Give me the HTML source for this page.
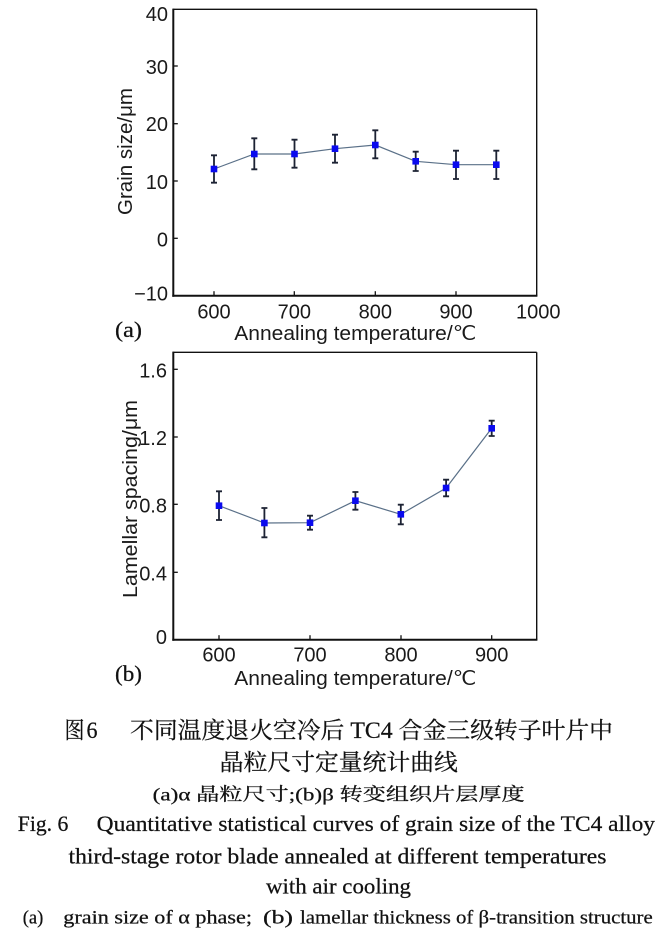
<!DOCTYPE html>
<html><head><meta charset="utf-8"><style>
html,body{margin:0;padding:0;background:#fff;}
svg{display:block;}
.t{font-family:"Liberation Sans",sans-serif;fill:#1a1a1a;}
.s{font-family:"Liberation Serif","Noto Serif CJK SC",serif;fill:#111;stroke:#111;stroke-width:0.25;}
</style></head><body>
<svg width="663" height="945" viewBox="0 0 663 945" xmlns="http://www.w3.org/2000/svg">
<rect width="663" height="945" fill="#fff"/>

<!-- ===== Chart (a) ===== -->
<g stroke="#111" fill="none">
  <line x1="173.3" y1="9.3" x2="536.7" y2="9.3" stroke-width="1.4"/>
  <line x1="536.7" y1="9.3" x2="536.7" y2="295.7" stroke-width="1.4"/>
  <line x1="173.3" y1="8.6" x2="173.3" y2="296.7" stroke-width="2"/>
  <line x1="172.3" y1="295.7" x2="537.4" y2="295.7" stroke-width="2"/>
  <line x1="173.3" y1="66" x2="177.8" y2="66" stroke-width="1.3"/>
  <line x1="173.3" y1="123.7" x2="177.8" y2="123.7" stroke-width="1.3"/>
  <line x1="173.3" y1="181" x2="177.8" y2="181" stroke-width="1.3"/>
  <line x1="173.3" y1="238.3" x2="177.8" y2="238.3" stroke-width="1.3"/>
  <line x1="214" y1="295.7" x2="214" y2="291.2" stroke-width="1.3"/>
  <line x1="294.3" y1="295.7" x2="294.3" y2="291.2" stroke-width="1.3"/>
  <line x1="375.3" y1="295.7" x2="375.3" y2="291.2" stroke-width="1.3"/>
  <line x1="456" y1="295.7" x2="456" y2="291.2" stroke-width="1.3"/>
</g>
<g class="t" font-size="20" text-anchor="end">
  <text x="168" y="21">40</text>
  <text x="168" y="74">30</text>
  <text x="168" y="131">20</text>
  <text x="168" y="189">10</text>
  <text x="168" y="246.5">0</text>
  <text x="168" y="300.5">−10</text>
</g>
<g class="t" font-size="20" text-anchor="middle">
  <text x="214" y="318.5">600</text>
  <text x="294.3" y="318.5">700</text>
  <text x="375.3" y="318.5">800</text>
  <text x="456" y="318.5">900</text>
  <text x="538.3" y="318.5">1000</text>
</g>
<text class="t" font-size="20" x="234.3" y="340" textLength="242" lengthAdjust="spacingAndGlyphs">Annealing temperature/℃</text>
<text class="t" font-size="20" transform="translate(132,215) rotate(-90)" x="0" y="0" textLength="127" lengthAdjust="spacingAndGlyphs">Grain size/μm</text>
<text class="s" font-size="22" x="115" y="337" textLength="27" lengthAdjust="spacingAndGlyphs">(a)</text>

<polyline fill="none" stroke="#5a7088" stroke-width="1.2" points="214,169 254.3,154 294.5,154 335,148.7 375.3,145 415.7,161.3 456,164.7 496.3,164.7"/>
<g stroke="#1c2233" stroke-width="1.8" fill="none">
  <path d="M214 155.3V182.7M211 155.3H217M211 182.7H217"/>
  <path d="M254.3 138.3V169.3M251.3 138.3H257.3M251.3 169.3H257.3"/>
  <path d="M294.5 139.7V167.7M291.5 139.7H297.5M291.5 167.7H297.5"/>
  <path d="M335 134.7V162.7M332 134.7H338M332 162.7H338"/>
  <path d="M375.3 130.3V158.3M372.3 130.3H378.3M372.3 158.3H378.3"/>
  <path d="M415.7 151.7V171M412.7 151.7H418.7M412.7 171H418.7"/>
  <path d="M456 150.7V179M453 150.7H459M453 179H459"/>
  <path d="M496.3 150.7V179M493.3 150.7H499.3M493.3 179H499.3"/>
</g>
<g fill="#0a0aee">
  <rect x="210.7" y="165.7" width="6.6" height="6.6"/>
  <rect x="251" y="150.7" width="6.6" height="6.6"/>
  <rect x="291.2" y="150.7" width="6.6" height="6.6"/>
  <rect x="331.7" y="145.4" width="6.6" height="6.6"/>
  <rect x="372" y="141.7" width="6.6" height="6.6"/>
  <rect x="412.4" y="158" width="6.6" height="6.6"/>
  <rect x="452.7" y="161.4" width="6.6" height="6.6"/>
  <rect x="493" y="161.4" width="6.6" height="6.6"/>
</g>

<!-- ===== Chart (b) ===== -->
<g stroke="#111" fill="none">
  <line x1="173.3" y1="352.3" x2="536.7" y2="352.3" stroke-width="1.4"/>
  <line x1="536.7" y1="352.3" x2="536.7" y2="639.7" stroke-width="1.4"/>
  <line x1="173.3" y1="351.6" x2="173.3" y2="640.7" stroke-width="2"/>
  <line x1="172.3" y1="639.7" x2="537.4" y2="639.7" stroke-width="2"/>
  <line x1="173.3" y1="369.3" x2="177.8" y2="369.3" stroke-width="1.3"/>
  <line x1="173.3" y1="437" x2="177.8" y2="437" stroke-width="1.3"/>
  <line x1="173.3" y1="504.3" x2="177.8" y2="504.3" stroke-width="1.3"/>
  <line x1="173.3" y1="572.3" x2="177.8" y2="572.3" stroke-width="1.3"/>
  <line x1="219" y1="639.7" x2="219" y2="635.2" stroke-width="1.3"/>
  <line x1="310" y1="639.7" x2="310" y2="635.2" stroke-width="1.3"/>
  <line x1="401" y1="639.7" x2="401" y2="635.2" stroke-width="1.3"/>
  <line x1="491.7" y1="639.7" x2="491.7" y2="635.2" stroke-width="1.3"/>
</g>
<g class="t" font-size="20" text-anchor="end">
  <text x="167" y="377.3">1.6</text>
  <text x="167" y="445">1.2</text>
  <text x="167" y="512.3">0.8</text>
  <text x="167" y="580.3">0.4</text>
  <text x="167" y="644">0</text>
</g>
<g class="t" font-size="20" text-anchor="middle">
  <text x="219" y="661.7">600</text>
  <text x="310" y="661.7">700</text>
  <text x="401" y="661.7">800</text>
  <text x="491.7" y="661.7">900</text>
</g>
<text class="t" font-size="20" x="234.3" y="685" textLength="242" lengthAdjust="spacingAndGlyphs">Annealing temperature/℃</text>
<text class="t" font-size="20" transform="translate(137,598) rotate(-90)" x="0" y="0" textLength="198" lengthAdjust="spacingAndGlyphs">Lamellar spacing/μm</text>
<text class="s" font-size="22" x="115" y="681" textLength="27" lengthAdjust="spacingAndGlyphs">(b)</text>

<polyline fill="none" stroke="#5a7088" stroke-width="1.2" points="219,505.7 264.4,523 310,522.7 355.4,500.7 400.8,514.3 446.1,488 491.7,428.3"/>
<g stroke="#1c2233" stroke-width="1.8" fill="none">
  <path d="M219 491.3V520M216 491.3H222M216 520H222"/>
  <path d="M264.4 508V537.3M261.4 508H267.4M261.4 537.3H267.4"/>
  <path d="M310 515.7V529.7M307 515.7H313M307 529.7H313"/>
  <path d="M355.4 492V509.7M352.4 492H358.4M352.4 509.7H358.4"/>
  <path d="M400.8 504.7V524.3M397.8 504.7H403.8M397.8 524.3H403.8"/>
  <path d="M446.1 479.7V496.3M443.1 479.7H449.1M443.1 496.3H449.1"/>
  <path d="M491.7 420.7V436M488.7 420.7H494.7M488.7 436H494.7"/>
</g>
<g fill="#0a0aee">
  <rect x="215.7" y="502.4" width="6.6" height="6.6"/>
  <rect x="261.1" y="519.7" width="6.6" height="6.6"/>
  <rect x="306.7" y="519.4" width="6.6" height="6.6"/>
  <rect x="352.1" y="497.4" width="6.6" height="6.6"/>
  <rect x="397.5" y="511" width="6.6" height="6.6"/>
  <rect x="442.8" y="484.7" width="6.6" height="6.6"/>
  <rect x="488.4" y="425" width="6.6" height="6.6"/>
</g>

<!-- ===== Captions ===== -->
<text class="s" font-size="23" x="64.5" y="738" textLength="20" lengthAdjust="spacingAndGlyphs">图</text>
<text class="s" font-size="23" x="86.5" y="738" textLength="11" lengthAdjust="spacingAndGlyphs">6</text>
<text class="s" font-size="23" x="130" y="738" textLength="483" lengthAdjust="spacingAndGlyphs">不同温度退火空冷后 TC4 合金三级转子叶片中</text>
<text class="s" font-size="23" x="219.8" y="770" textLength="238" lengthAdjust="spacingAndGlyphs">晶粒尺寸定量统计曲线</text>
<text class="s" font-size="18" x="152.7" y="800.5" textLength="372" lengthAdjust="spacingAndGlyphs">(a)α 晶粒尺寸;(b)β 转变组织片层厚度</text>
<text class="s" font-size="22" x="17.8" y="831" textLength="50.5" lengthAdjust="spacingAndGlyphs">Fig. 6</text>
<text class="s" font-size="22" x="96.7" y="831" textLength="558.3" lengthAdjust="spacingAndGlyphs">Quantitative statistical curves of grain size of the TC4 alloy</text>
<text class="s" font-size="22" x="68.5" y="863.3" textLength="538" lengthAdjust="spacingAndGlyphs">third-stage rotor blade annealed at different temperatures</text>
<text class="s" font-size="22" x="266" y="893.3" textLength="145" lengthAdjust="spacingAndGlyphs">with air cooling</text>
<text class="s" font-size="19" x="22.7" y="923.3" textLength="20.6" lengthAdjust="spacingAndGlyphs">(a)</text>
<text class="s" font-size="19" x="63.3" y="923.3" textLength="188.7" lengthAdjust="spacingAndGlyphs">grain size of α phase;</text>
<text class="s" font-size="19" x="263" y="923.3" textLength="30" lengthAdjust="spacingAndGlyphs">(b)</text>
<text class="s" font-size="19" x="300" y="923.3" textLength="352.7" lengthAdjust="spacingAndGlyphs">lamellar thickness of β-transition structure</text>
</svg>
</body></html>
